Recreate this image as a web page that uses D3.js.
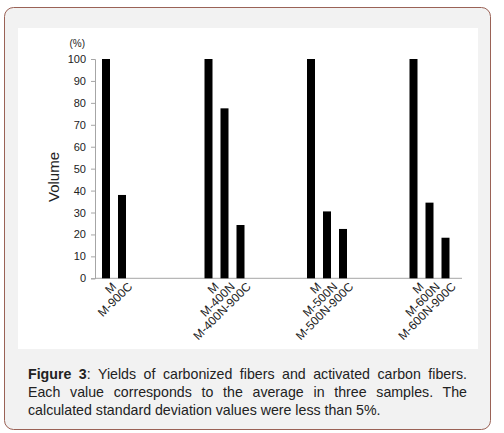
<!DOCTYPE html>
<html>
<head>
<meta charset="utf-8">
<script src="https://cdn.jsdelivr.net/npm/d3@7"></script>
<style>
  html, body { margin: 0; padding: 0; background: #fff; }
  #wrap { position: relative; width: 504px; height: 433px; }
  #caption {
    position: absolute; left: 28px; top: 365px; width: 439px;
    font: 14.2px "Liberation Sans", Arial, sans-serif; line-height: 18px;
    color: #222; text-align: justify; text-align-last: left;
  }
</style>
</head>
<body>
<div id="wrap">
  <div id="chart"></div>
  <div id="caption"><b>Figure 3</b>: Yields of carbonized fibers and activated carbon fibers. Each value corresponds to the average in three samples. The calculated standard deviation values were less than 5%.</div>
</div>
<script>
const width = 504
const height = 433

// data
const groups = ["g1", "g2", "g3", "g4"]
const labels = [
  ["M", "M-900C"],
  ["M", "M-400N", "M-400N-900C"],
  ["M", "M-500N", "M-500N-900C"],
  ["M", "M-600N", "M-600N-900C"]
]
const values = [
  [100, 38],
  [100, 77.5, 24.3],
  [100, 30.5, 22.5],
  [100, 34.5, 18.5]
]
const yTicks = d3.range(0, 101, 10)

const svg = d3.select("#chart")
  .append("svg")
  .attr("width", width)
  .attr("height", height)
  .style("position", "absolute")
  .style("left", 0)
  .style("top", 0)
  .style("font-family", "'Liberation Sans', Arial, sans-serif")

// outer frame + white panel
svg.append("rect")
  .attr("x", 4.5).attr("y", 7.5)
  .attr("width", 486).attr("height", 422)
  .attr("rx", 9)
  .attr("fill", "#f2f2f2")
  .attr("stroke", "#9a6256")
  .attr("stroke-width", 1)

svg.append("rect")
  .attr("x", 18).attr("y", 28)
  .attr("width", 460).attr("height", 321)
  .attr("fill", "#fff")

const y = d3.scaleLinear().domain([0, 100]).range([278.3, 59])
const x = d3.scalePoint().domain(groups).range([106, 413.5])
const inner = d3.scaleBand().domain([0, 1, 2]).range([-8, 40])
const barW = 8

// y axis
const yAxis = svg.append("g")
  .attr("transform", "translate(95,0)")
  .call(d3.axisLeft(y).tickValues(yTicks).tickSize(4).tickPadding(5))
yAxis.select(".domain").attr("stroke", "#a6a6a6")
yAxis.selectAll(".tick line").attr("stroke", "#a6a6a6")
yAxis.selectAll(".tick text")
  .attr("fill", "#222")
  .style("font-size", "11px")

// x axis line
svg.append("line")
  .attr("x1", 95).attr("x2", 462)
  .attr("y1", y(0)).attr("y2", y(0))
  .attr("stroke", "#a6a6a6")

svg.append("text")
  .attr("x", 85).attr("y", 47)
  .attr("text-anchor", "end")
  .attr("fill", "#222")
  .style("font-size", "10px")
  .text("(%)")

svg.append("text")
  .attr("transform", "translate(59,177) rotate(-90)")
  .attr("text-anchor", "middle")
  .attr("fill", "#222")
  .style("font-size", "15px")
  .text("Volume")

const flat = []
groups.forEach((g, gi) => {
  labels[gi].forEach((lab, i) => {
    flat.push({g, i, label: lab, value: values[gi][i]})
  })
})
const cx = d => x(d.g) + inner(d.i) + inner.bandwidth() / 2

svg.append("g")
  .selectAll("rect")
  .data(flat)
  .join("rect")
  .attr("x", d => cx(d) - barW / 2)
  .attr("y", d => y(d.value))
  .attr("width", barW)
  .attr("height", d => y(0) - y(d.value))
  .attr("fill", "#000")

svg.append("g")
  .selectAll("text")
  .data(flat)
  .join("text")
  .attr("transform", d => `translate(${cx(d) + 5},${y(0) + 3}) rotate(-45)`)
  .attr("text-anchor", "end")
  .attr("dy", "0.71em")
  .attr("fill", "#222")
  .style("font-size", "12px")
  .text(d => d.label)
</script>
</body>
</html>
